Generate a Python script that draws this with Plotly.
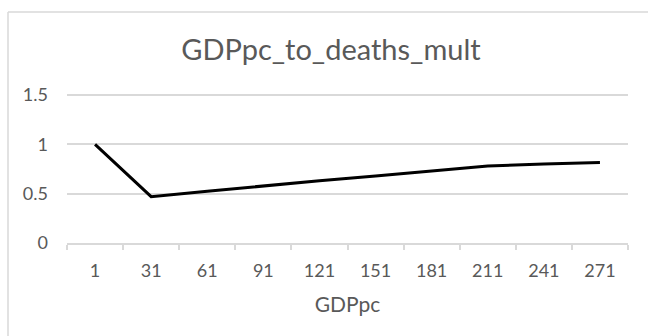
import plotly.graph_objects as go

# GDP per capita bins and the multiplier applied to deaths
gdppc = ["1", "31", "61", "91", "121", "151", "181", "211", "241", "271"]
deaths_mult = [1.0, 0.47, 0.525, 0.58, 0.63, 0.68, 0.73, 0.78, 0.80, 0.817]

W, H = 648, 336
L, R, T, B = 67, 20, 93, 93
YMAX = 1.52

FONT = "Lato, 'Open Sans', sans-serif"
TXT = "#595959"
GRID = "#d9d9d9"

fig = go.Figure(
    go.Scatter(
        x=gdppc,
        y=deaths_mult,
        mode="lines",
        line=dict(color="black", width=3),
        hoverinfo="x+y",
    )
)

pw, ph = W - L - R, H - T - B

# chart-area frame (left and top edges)
fx = (8 - L) / pw
fy = 1 + (T - 12) / ph
fig.add_shape(type="line", xref="paper", yref="paper", x0=fx, x1=fx, y0=fy, y1=-2,
              line=dict(color=GRID, width=1.5))
fig.add_shape(type="line", xref="paper", yref="paper", x0=fx, x1=2, y0=fy, y1=fy,
              line=dict(color=GRID, width=1.5))

fig.update_layout(
    width=W,
    height=H,
    margin=dict(l=L, r=R, t=T, b=B),
    paper_bgcolor="white",
    plot_bgcolor="white",
    showlegend=False,
    title=dict(
        text="GDPpc_to_deaths_mult",
        x=331 / W,
        xanchor="center",
        y=1 - 50 / H,
        yanchor="middle",
        font=dict(family=FONT, size=29, color=TXT),
    ),
    xaxis=dict(
        type="category",
        range=[-0.5, 9.5],
        showgrid=False,
        showline=True,
        linecolor=GRID,
        linewidth=1.5,
        ticks="outside",
        tickson="boundaries",
        ticklen=5,
        tickcolor=GRID,
        tickwidth=1.5,
        ticklabelstandoff=11,
        tickfont=dict(family=FONT, size=18, color=TXT),
        title=dict(text="GDPpc", font=dict(family=FONT, size=21, color=TXT), standoff=17),
        fixedrange=True,
    ),
    yaxis=dict(
        range=[0, YMAX],
        tickvals=[0, 0.5, 1, 1.5],
        ticktext=["0", "0.5", "1", "1.5"],
        showgrid=True,
        gridcolor=GRID,
        gridwidth=1.5,
        zeroline=False,
        showline=False,
        ticks="",
        ticklabelstandoff=18,
        tickfont=dict(family=FONT, size=18, color=TXT),
        fixedrange=True,
    ),
)

fig.write_html("out.html")
